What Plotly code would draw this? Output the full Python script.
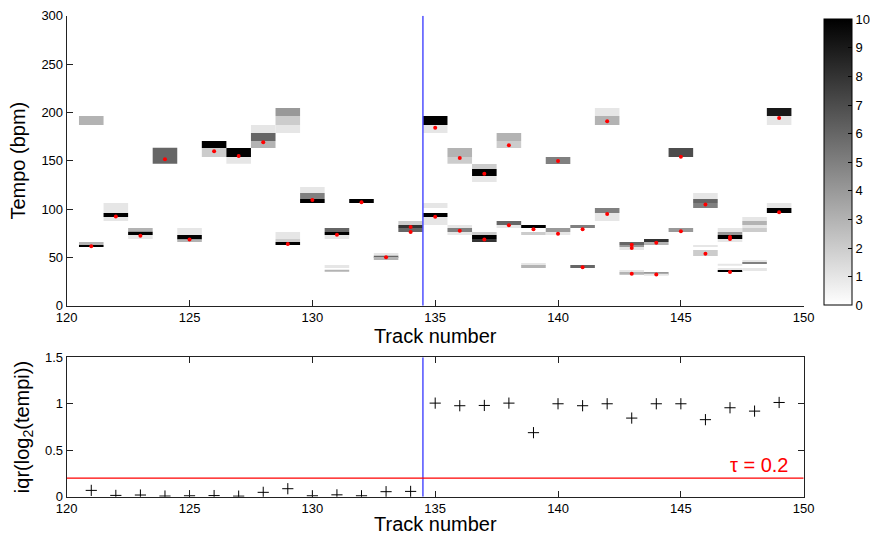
import plotly.graph_objects as go

# ---------------- data ----------------
# tempo histogram blocks: track, lower tempo, upper tempo, count
blk_track = [121, 121, 121,
             122, 122, 122,
             123, 123, 123,
             124,
             125, 125, 125,
             126, 126,
             127, 127,
             128, 128, 128,
             129, 129, 129, 129, 129, 129,
             130, 130, 130,
             131, 131, 131, 131, 131,
             132,
             133, 133, 133,
             134, 134, 134,
             135, 135, 135, 135, 135,
             136, 136, 136, 136, 136,
             137, 137, 137, 137, 137, 137,
             138, 138, 138, 138,
             139, 139, 139, 139,
             140, 140, 140,
             141, 141,
             142, 142, 142, 142,
             143, 143, 143, 143, 143,
             144, 144, 144, 144,
             145, 145,
             146, 146, 146, 146, 146,
             147, 147, 147, 147, 147, 147, 147,
             148, 148, 148, 148, 148, 148, 148,
             149, 149, 149, 149]
blk_lo = [186.9, 62.8, 60.7,
          95.9, 91.7, 87.6,
          76.6, 73.1, 69.0,
          146.9,
          73.1, 68.6, 65.9,
          163.1, 153.8,
          153.8, 146.9,
          178.6, 170.3, 163.1,
          196.2, 186.9, 178.6, 69.0, 65.9, 62.8,
          116.6, 110.3, 106.2,
          76.2, 73.1, 69.0, 39.0, 35.9,
          106.2,
          51.4, 50.4, 47.3,
          83.4, 80.3, 76.2,
          186.9, 178.6, 101.0, 91.7, 83.4,
          153.8, 146.9, 80.3, 76.2, 73.1,
          141.4, 134.1, 127.9, 73.1, 69.0, 65.9,
          170.3, 163.1, 83.4, 80.3,
          80.3, 73.1, 42.1, 39.0,
          146.6, 76.2, 73.1,
          80.3, 39.0,
          196.2, 186.9, 95.9, 87.6,
          62.8, 60.7, 57.6, 34.8, 32.8,
          65.9, 62.8, 32.8, 31.7,
          153.8, 76.2,
          110.3, 106.2, 101.0, 60.7, 51.4,
          76.2, 73.1, 69.0, 65.9, 42.1, 36.9, 34.8,
          87.6, 83.4, 80.3, 76.2, 45.2, 43.1, 35.9,
          196.2, 186.9, 101.0, 95.9]
blk_hi = [196.2, 65.9, 62.8,
          106.2, 95.9, 91.7,
          80.3, 76.6, 73.1,
          163.5,
          80.3, 73.1, 68.6,
          170.3, 163.1,
          163.1, 153.8,
          186.9, 178.6, 170.3,
          204.5, 196.2, 186.9, 76.2, 69.0, 65.9,
          122.8, 116.6, 110.3,
          80.3, 76.2, 73.1, 42.1, 36.9,
          110.3,
          54.5, 51.4, 50.4,
          87.6, 83.4, 80.3,
          196.2, 186.9, 106.2, 95.9, 91.7,
          163.1, 153.8, 83.4, 80.3, 76.2,
          146.6, 141.4, 134.1, 76.2, 73.1, 69.0,
          178.6, 170.3, 87.6, 83.4,
          83.4, 76.2, 44.1, 42.1,
          153.8, 80.3, 76.2,
          83.4, 42.1,
          204.5, 196.2, 101.0, 95.9,
          65.9, 62.8, 60.7, 36.9, 34.8,
          69.0, 65.9, 34.8, 32.8,
          163.1, 80.3,
          116.6, 110.3, 106.2, 62.8, 57.6,
          80.3, 76.2, 73.1, 69.0, 43.1, 39.0, 36.9,
          91.7, 87.6, 83.4, 80.3, 47.3, 45.2, 39.0,
          204.5, 196.2, 106.2, 101.0]
blk_count = [3, 3, 10,
             1, 10, 1,
             3, 10, 1,
             6,
             1, 10, 3,
             10, 2,
             10, 1,
             1, 6, 3,
             4, 2, 1, 1, 2, 10,
             1, 5, 10,
             6, 10, 1, 1, 3,
             10,
             1, 6, 3,
             2, 8, 6,
             10, 1, 1, 10, 1,
             3, 2, 1, 5, 1,
             2, 10, 1, 2, 10, 8,
             3, 2, 6, 1,
             10, 2, 1, 3,
             5, 4, 1,
             5, 6,
             1, 3, 5, 1,
             6, 4, 1, 1, 3,
             8, 3, 4, 1,
             7, 4,
             1, 6, 5, 1, 2,
             1, 4, 10, 1, 1, 1, 10,
             1, 3, 1, 2, 1, 5, 1,
             9, 1, 1, 10]

# selected tempo estimates (red dots)
dot_track = [121, 122, 123, 124, 125, 126, 127, 128, 129, 130, 131, 132, 133,
             134, 134, 135, 135, 136, 136, 137, 137, 138, 138, 139,
             140, 140, 141, 141, 142, 142, 143, 143, 143, 144, 144,
             145, 145, 146, 146, 147, 147, 147, 149, 149]
dot_tempo = [61.4, 92.4, 72.4, 151.4, 68.6, 159.7, 154.8, 169.0, 63.8, 109.3, 73.4, 106.9, 50.0,
             81.4, 76.2, 184.1, 92.1, 152.8, 77.6, 136.6, 68.6, 165.9, 83.1, 79.0,
             149.7, 74.5, 79.0, 39.7, 190.7, 94.8, 63.1, 59.7, 33.1, 65.2, 32.4,
             154.1, 76.9, 104.8, 53.8, 71.0, 69.0, 34.8, 194.1, 96.6]

# inter-quartile range of log2 tempi per track
iqr_track = list(range(121, 150))
iqr_value = [0.068, 0.014, 0.018, 0.007, 0.010, 0.012, 0.006, 0.047, 0.086, 0.010,
             0.020, 0.010, 0.054, 0.057,
             1.007, 0.979, 0.982, 1.007, 0.689, 1.000, 0.979, 1.000, 0.846,
             1.000, 1.000, 0.829, 0.957, 0.921, 1.014]

split_track = 134.5
tau = 0.2
x_ticks = [120, 125, 130, 135, 140, 145, 150]
tempo_ticks = [0, 50, 100, 150, 200, 250, 300]
iqr_ticks = [0, 0.5, 1, 1.5]
iqr_ticktext = ["0", "0.5", "1", "1.5"]
cbar_ticks = list(range(0, 11))

# ---------------- figure ----------------
W, H = 870, 535
FONT = "Liberation Sans, Arial, Helvetica, sans-serif"

fig = go.Figure()

fig.add_trace(go.Bar(
    x=blk_track,
    y=[h - l for h, l in zip(blk_hi, blk_lo)],
    base=blk_lo,
    width=1,
    marker=dict(
        color=blk_count,
        colorscale=[[0, "rgb(255,255,255)"], [1, "rgb(0,0,0)"]],
        cmin=0, cmax=10,
        line=dict(width=0),
        showscale=True,
        colorbar=dict(
            x=824 / W, xanchor="left",
            y=1 - 19.3 / H, yanchor="top",
            lenmode="pixels", len=286,
            thicknessmode="pixels", thickness=28,
            xpad=0, ypad=0,
            outlinecolor="black", outlinewidth=1,
            tickmode="array", tickvals=cbar_ticks,
            ticks="inside", ticklen=4, tickcolor="black",
            tickfont=dict(size=13, color="black", family=FONT),
        ),
    ),
    xaxis="x", yaxis="y",
    showlegend=False,
))

fig.add_trace(go.Scatter(
    x=dot_track, y=dot_tempo, mode="markers",
    marker=dict(color="red", size=4),
    xaxis="x", yaxis="y", showlegend=False,
))

fig.add_trace(go.Scatter(
    x=iqr_track, y=iqr_value, mode="markers",
    marker=dict(symbol="cross-thin", size=8, line=dict(width=1, color="black")),
    xaxis="x2", yaxis="y2", showlegend=False,
))

xdom = [66.7 / W, 803.7 / W]
ydom_top = [1 - 305.7 / H, 1 - 15.7 / H]
ydom_bot = [1 - 496.7 / H, 1 - 357.3 / H]

axis_common = dict(
    ticks="inside", ticklen=6, tickcolor="#222",
    showline=True, linecolor="#222", linewidth=1,
    showgrid=False, zeroline=False, automargin=False,
    tickfont=dict(size=13, color="black", family=FONT),
    title_font=dict(size=20, color="black", family=FONT),
)

fig.update_layout(
    width=W, height=H,
    margin=dict(l=0, r=0, t=0, b=0, pad=0, autoexpand=False),
    paper_bgcolor="white", plot_bgcolor="white",
    barmode="overlay",
    font=dict(family=FONT, color="black"),
    xaxis=dict(domain=xdom, range=[120, 150], anchor="y",
               tickvals=x_ticks, title=dict(text="Track number", standoff=3),
               **axis_common),
    yaxis=dict(domain=ydom_top, range=[0, 300], anchor="x",
               tickvals=tempo_ticks, title=dict(text="Tempo (bpm)", standoff=10),
               **axis_common),
    xaxis2=dict(domain=xdom, range=[120, 150], anchor="y2",
                tickvals=x_ticks, mirror="ticks",
                **axis_common),
    yaxis2=dict(domain=ydom_bot, range=[0, 1.5], anchor="x2",
                tickvals=iqr_ticks, ticktext=iqr_ticktext, mirror="ticks",
                title=dict(text="iqr(log<sub>2</sub>(tempi))", standoff=10),
                **axis_common),
    shapes=[
        dict(type="line", xref="x", yref="y", x0=split_track, x1=split_track,
             y0=0, y1=300, line=dict(color="rgb(80,80,255)", width=1.5)),
        dict(type="line", xref="x2", yref="y2", x0=split_track, x1=split_track,
             y0=0, y1=1.5, line=dict(color="rgb(80,80,255)", width=1.5)),
        dict(type="line", xref="x2", yref="y2", x0=120, x1=150,
             y0=tau, y1=tau, line=dict(color="red", width=1.2)),
    ],
    annotations=[
        dict(text="\u03c4 = 0.2", xref="x2", yref="y2", x=149.5, y=0.34,
             xanchor="right", yanchor="middle", showarrow=False,
             font=dict(size=20, color="red", family=FONT)),
        dict(text="Track number", xref="x2 domain", yref="paper",
             x=0.5, y=1 - 511 / H, xanchor="center", yanchor="top",
             showarrow=False,
             font=dict(size=20, color="black", family=FONT)),
    ],
)

fig.write_html("out.html")
